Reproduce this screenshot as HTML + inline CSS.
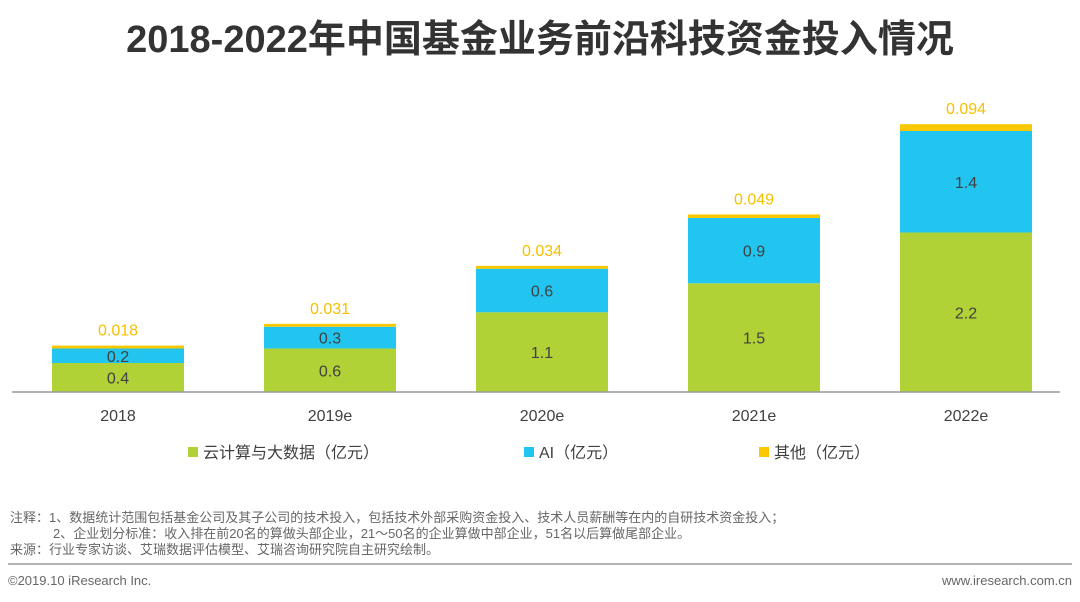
<!DOCTYPE html>
<html><head><meta charset="utf-8"><style>
body{margin:0;width:1080px;height:597px;background:#fff;overflow:hidden;font-family:"Liberation Sans","Noto Sans CJK SC",sans-serif;}
svg text{font-family:"Liberation Sans","Noto Sans CJK SC",sans-serif;}
</style></head><body>
<svg width="1080" height="597">
<text x="540" y="52" text-anchor="middle" font-size="38" font-weight="bold" fill="#333">2018-2022年中国基金业务前沿科技资金投入情况</text>
<g id="bars"></g>
<line x1="12" y1="392" x2="1060" y2="392" stroke="#999" stroke-width="1.5"/>
<g font-size="16" fill="#404040">
<rect x="188" y="447" width="10" height="10" fill="#b0d236"/>
<text x="203" y="458">云计算与大数据（亿元）</text>
<rect x="524" y="447" width="10" height="10" fill="#22c5ef"/>
<text x="539" y="458">AI（亿元）</text>
<rect x="759" y="447" width="10" height="10" fill="#fac800"/>
<text x="774" y="458">其他（亿元）</text>
</g>
<g font-size="13" fill="#666">
<text x="10" y="522">注释：1、数据统计范围包括基金公司及其子公司的技术投入，包括技术外部采购资金投入、技术人员薪酬等在内的自研技术资金投入；</text>
<text x="53" y="538">2、企业划分标准：收入排在前20名的算做头部企业，21～50名的企业算做中部企业，51名以后算做尾部企业。</text>
<text x="10" y="554">来源：行业专家访谈、艾瑞数据评估模型、艾瑞咨询研究院自主研究绘制。</text>
</g>
<line x1="8" y1="564" x2="1072" y2="564" stroke="#999" stroke-width="1.5"/>
<text x="8" y="585" font-size="13" fill="#666">©2019.10 iResearch Inc.</text>
<text x="1072" y="585" font-size="13" fill="#666" text-anchor="end">www.iresearch.com.cn</text>
</svg>
<script>
const categories=["2018","2019e","2020e","2021e","2022e"];
const cloud=[0.4,0.6,1.1,1.5,2.2];
const ai=[0.2,0.3,0.6,0.9,1.4];
const other=[0.018,0.031,0.034,0.049,0.094];
const otherLabels=["0.018","0.031","0.034","0.049","0.094"];
const base=392,scale=72.5,x0=52,step=212,bw=132;
const ns="http://www.w3.org/2000/svg";
const g=document.getElementById('bars');
function y(v){return base-v*scale;}
function xb(i){return x0+i*step;}
function rect(x,y1,h,fill,name){const r=document.createElementNS(ns,'rect');r.setAttribute('x',x);r.setAttribute('y',y1);r.setAttribute('width',bw);r.setAttribute('height',Math.max(h,0));r.setAttribute('fill',fill);


g.appendChild(r);}
function text(x,yy,s,fill,size,name){const t=document.createElementNS(ns,'text');t.setAttribute('x',x);t.setAttribute('y',yy);t.setAttribute('text-anchor','middle');t.setAttribute('font-size',size);t.setAttribute('fill',fill);t.textContent=s;


g.appendChild(t);}
categories.forEach((c,i)=>{
 const x=xb(i),cx=x+bw/2;
 const t1=cloud[i],t2=t1+ai[i],t3=t2+Math.max(other[i],0.04);
 rect(x,y(t1),t1*scale,'#b0d236','bar-cloud-'+c);
 rect(x,y(t2),ai[i]*scale,'#22c5ef','bar-ai-'+c);
 rect(x,y(t3),(t3-t2)*scale,'#fac800','bar-other-'+c);
 text(cx,(y(0)+y(t1))/2+6,String(cloud[i]),'#404040',16,'value-cloud-'+c);
 text(cx,(y(t1)+y(t2))/2+6,String(ai[i]),'#404040',16,'value-ai-'+c);
 text(cx,y(t3)-10,otherLabels[i],'#f5c000',16,'value-other-'+c);
 text(cx,421,c,'#404040',16,'x-tick-'+c);
});
</script>
</body></html>
